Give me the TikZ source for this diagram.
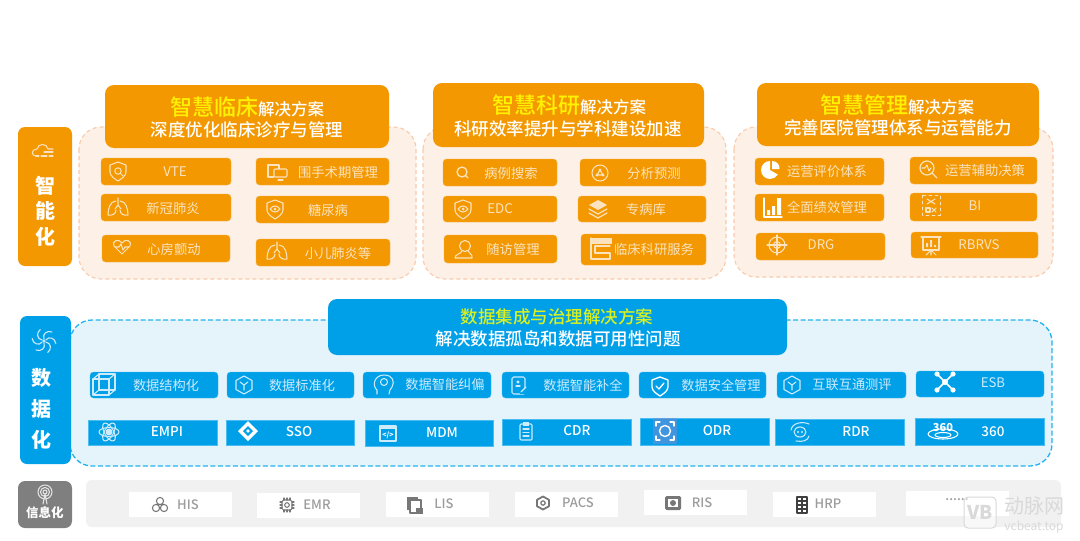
\documentclass[tikz,border=0pt]{standalone}
\usepackage{fontspec}
\setmainfont{Noto Sans CJK SC}
\newfontfamily\med{Noto Sans CJK SC Medium}
\usetikzlibrary{calc}
\definecolor{org}{HTML}{F39800}
\definecolor{orgpanel}{HTML}{FDF0E6}
\definecolor{orgdash}{HTML}{F9CBAA}
\definecolor{orgtxt}{HTML}{FBE3C0}
\definecolor{blu}{HTML}{00A0E9}
\definecolor{blupanel}{HTML}{E5F3FA}
\definecolor{bludash}{HTML}{22B4EE}
\definecolor{blutxt}{HTML}{CDEBFA}
\definecolor{graybk}{HTML}{7F7F7F}
\definecolor{graypanel}{HTML}{F1F1F1}
\definecolor{graytxt}{HTML}{9C9C9C}
\definecolor{grayicon}{HTML}{777777}
\definecolor{yel}{HTML}{FFF200}
\definecolor{yelg}{HTML}{D8F020}
\definecolor{wm}{HTML}{D9D9D9}
\definecolor{focus}{HTML}{6C8FD8}
\tikzset{
  x=1pt,y=-1pt,
  rbox/.style={inner sep=0pt,outer sep=0pt,rounded corners=#1},
  rbox/.default=4pt,
  panelO/.style={rbox=22pt,fill=orgpanel,draw=orgdash,line width=1.1pt,dash pattern=on 4pt off 3pt},
  panelB/.style={rbox=22pt,fill=blupanel,draw=bludash,line width=1.3pt,dash pattern=on 5pt off 2.5pt},
  hdO/.style={rbox=9pt,fill=org},
  hdB/.style={rbox=9pt,fill=blu},
  sideO/.style={rbox=7pt,fill=org},
  sideB/.style={rbox=7pt,fill=blu},
  sideG/.style={rbox=7pt,fill=graybk},
  itemO/.style={rbox=3.5pt,fill=org,draw=org!70!white,line width=.3pt},
  itemB/.style={rbox=3.5pt,fill=blu,draw=blu!70!white,line width=.3pt},
  itemS/.style={rbox=0pt,fill=blu,draw=blu!70!white,line width=.3pt},
  itemW/.style={rbox=0pt,fill=white},
  txtO/.style={inner sep=0pt,text=orgtxt,font=\fontsize{13.3}{15}\selectfont},
  txtB/.style={inner sep=0pt,text=blutxt,font=\fontsize{13.2}{15}\selectfont},
  txtS/.style={inner sep=0pt,text=white,font=\med\fontsize{13.5}{15}\selectfont},
  txtG/.style={inner sep=0pt,text=graytxt,font=\med\fontsize{13}{15}\selectfont},
  hdtxt/.style={inner sep=0pt,text=white,font=\med\fontsize{17.5}{20}\selectfont},
  sidetxt/.style={inner sep=0pt,text=white,font=\fontsize{20}{22}\bfseries\selectfont},
}
\newcommand\bx[6]{\path[#1] (#3,#4) rectangle (#5,#6) node[midway,inner sep=0pt,minimum size=0pt] (#2) {};}
\newcommand\lab[5]{\node[#1] (#2) at (#3,#4) {#5};}
\newcommand\ic[4]{\begin{scope}[shift={(#2,#3)},color=#1,line width=1.05pt,line join=round,line cap=round]#4\end{scope}}
\newcommand\shieldp{(0,-9) -- (8,-6) -- (8,1) .. controls (8,5) and (3,8) .. (0,10) .. controls (-3,8) and (-8,5) .. (-8,1) -- (-8,-6) -- cycle}
\newcommand\iShieldSearch{\draw \shieldp; \draw (0,0) circle (3.2); \draw (2.4,2.4) -- (5,5);}
\newcommand\iShieldEye{\draw \shieldp; \draw (-5,0) .. controls (-2,-4) and (2,-4) .. (5,0) .. controls (2,4) and (-2,4) .. (-5,0); \fill (0,0) circle (1.5);}
\newcommand\iShieldCheck{\draw[line width=1.3pt] \shieldp; \draw[line width=1.3pt] (-4,0) -- (-1,3) -- (4,-3);}
\newcommand\iLung{\draw (0,-9) -- (0,-2) (0,-2) -- (-3,2) (0,-2) -- (3,2);
  \draw (-2,-6) .. controls (-8,-6) and (-10,2) .. (-10,8) .. controls (-6,9) and (-2,7) .. (-2,3);
  \draw (2,-6) .. controls (8,-6) and (10,2) .. (10,8) .. controls (6,9) and (2,7) .. (2,3);}
\newcommand\iHeart{\draw (0,7) -- (-8,-1) .. controls (-11,-6) and (-3,-9) .. (0,-4) .. controls (3,-9) and (11,-6) .. (8,-1) -- cycle; \draw (-7,0) -- (-3,0) -- (-1,-3) -- (1,3) -- (3,0) -- (7,0);}
\newcommand\iScreens{\draw (-9,-7) rectangle (2,5); \fill[org] (-3,-3) rectangle (10,8); \draw[rounded corners=1pt] (-3,-3) rectangle (10,5); \draw (1,8) -- (6,8);}
\newcommand\iSearch{\draw[line width=1.3pt] (0,0) circle (5); \draw[line width=1.3pt] (3.5,3.5) -- (6,6);}
\newcommand\iGlobe{\draw (0,0) circle (8); \draw (0,-3) -- (-3,2) -- (3,2) -- cycle; \fill (0,-3) circle (1.6) (-3,2) circle (1.6) (3,2) circle (1.6);}
\newcommand\iLayers{\fill (0,-9) -- (9,-4) -- (0,1) -- (-9,-4) -- cycle; \draw[line width=1.2pt] (-9,0) -- (0,5) -- (9,0); \draw[line width=1.2pt] (-9,4) -- (0,9) -- (9,4);}
\newcommand\iPerson{\draw (0,-3) circle (5.5); \draw (-3,2) .. controls (-4,5) and (-10,5) .. (-10,9) -- (7,9) .. controls (8,5) and (4,5) .. (3,2);}
\newcommand\iCap{\fill (-10,-11) -- (11,-11) -- (11,-5) -- (-10,-5) -- cycle; \draw (-10,-11) -- (-10,10) -- (9,10); \draw (-6,-3) -- (9,-3) (-6,4) -- (9,4); \draw (-6,-3) -- (-6,4);\draw (9,4) -- (9,10);}
\newcommand\iPie{\fill (-1,-1) -- (-1,-10) arc[start angle=90,end angle=330,radius=9,y radius=-9] -- cycle; \fill (1,-2) -- (1,-10) .. controls (6,-10) and (9,-6) .. (8.5,-2) -- cycle;}
\newcommand\iBars{\draw[line width=1.2pt] (-9,-9) -- (-9,10) -- (9,10); \fill (-6,3) rectangle (-3,8) (-1,-1) rectangle (2,8) (4,-9) rectangle (8,8);}
\newcommand\iTarget{\draw (0,0) circle (8); \draw (0,0) circle (3.5); \draw (-10,0) -- (10,0) (0,-10) -- (0,10);}
\newcommand\iMagPulse{\draw[line width=1.2pt] (-1,-1) circle (7); \draw[line width=1.2pt] (4,4) -- (9,9); \draw (-6,-1) -- (-3,-1) -- (-1,-4) -- (1,2) -- (3,-1);}
\newcommand\iBI{\draw[dashed,line width=.8pt] (-9,-10) rectangle (9,10); \draw (-4,-6) -- (4,-1) (4,-6) -- (-4,-1); \draw (-5,3) rectangle (-1,7); \draw (1,3) -- (5,7) (5,3) -- (1,7);}
\newcommand\iBoard{\draw[line width=1.1pt] (-10,-8) -- (10,-8); \draw (-8,-8) -- (-8,5) -- (8,5) -- (8,-8); \fill (-5,2) rectangle (-3,-2) (-1,2) rectangle (1,-5) (3,2) rectangle (5,0); \draw (0,5) -- (0,10) (-5,10) -- (0,5) -- (5,10);}
\newcommand\iCube{\draw[line width=1.1pt] (-11,-6) rectangle (5,10); \draw[line width=1.1pt] (-5,-11) rectangle (11,5); \draw[line width=1.1pt] (-11,-6) -- (-5,-11) (5,-6) -- (11,-11) (5,10) -- (11,5) (-11,10) -- (-5,5);}
\newcommand\iHex{\draw[line width=1.1pt] (0,-9) -- (8,-4.5) -- (8,4.5) -- (0,9) -- (-8,4.5) -- (-8,-4.5) -- cycle; \draw (-4,-3) -- (0,0) -- (4,-3) (0,0) -- (0,5);}
\newcommand\iHead{\draw (-7,9) -- (-7,5) .. controls (-12,1) and (-10,-10) .. (0,-10) .. controls (9,-10) and (11,-3) .. (8,2) -- (6,5) -- (5,9); \draw (0,-3) circle (3.5);}
\newcommand\iDocPen{\draw[rounded corners=1.5pt] (-7,-8) rectangle (6,9); \fill[blu] (1,3) rectangle (9,9); \draw (-1,-3) circle (1.1); \draw (-3,1) -- (1,1); \draw[line width=1.3pt] (2,7) -- (7,2);}
\newcommand\iNet{\fill (-8,-8) circle (2.6) (8,-8) circle (2.6) (-8,8) circle (2.6) (8,8) circle (2.6) (0,0) circle (3); \draw[line width=1.5pt] (-8,-8) -- (8,8) (8,-8) -- (-8,8);}
\newcommand\iAtom{\fill (0,0) circle (3.5); \draw[rotate=0] (0,0) ellipse[x radius=10,y radius=4.5]; \draw[rotate=60] (0,0) ellipse[x radius=10,y radius=4.5]; \draw[rotate=120] (0,0) ellipse[x radius=10,y radius=4.5];}
\newcommand\iDiamond{\fill[white] (0,-10) -- (10,0) -- (0,10) -- (-10,0) -- cycle; \fill[blu] (0,-5) -- (5,0) -- (0,5) -- (-5,0) -- cycle; \fill[white] (0,0) circle (1.8);}
\newcommand\iCode{\draw (-8,-7) rectangle (8,8); \fill (-8,-7) rectangle (8,-4); \node[inner sep=0pt,text=white,font=\fontsize{7}{8}\bfseries\selectfont] (cd) at (0,2) {</>};}
\newcommand\iClip{\draw[rounded corners=1pt] (-6,-7) rectangle (6,9); \fill (-3,-9) rectangle (3,-5); \draw (-3,-2) -- (3,-2) (-3,1.5) -- (3,1.5) (-3,5) -- (3,5);}
\newcommand\iFocus{\fill[focus,opacity=.6] (-12,-13) rectangle (12,13); \draw[line width=1.2pt] (-9,-5) -- (-9,-9) -- (-5,-9) (5,-9) -- (9,-9) -- (9,-5) (9,5) -- (9,9) -- (5,9) (-5,9) -- (-9,9) -- (-9,5); \draw[line width=1.4pt] (0,0) circle (5.5);}
\newcommand\iSwirl{\draw[line width=1.1pt] (0,0) ellipse[x radius=6,y radius=5]; \draw (-9,-2) .. controls (-8,-9) and (2,-11) .. (9,-8); \draw (9,4) .. controls (8,9) and (2,10) .. (-4,9); \fill (-2,0) circle (1.1) (2,0) circle (1.1);}
\newcommand\iThreeSixty{\draw (0,3) ellipse[x radius=15,y radius=5]; \draw (0,4) ellipse[x radius=8,y radius=2.5]; \node[inner sep=0pt,text=white,font=\fontsize{11}{12}\bfseries\selectfont] (ts) at (0,-3) {360};}
\newcommand\iCloud{\draw (-8,4) .. controls (-13,4) and (-13,-3) .. (-7,-3) .. controls (-6,-9) and (3,-9) .. (4,-3) -- (9,-3); \draw (-3,4) -- (3,4) (0,0) -- (9,0) (5,4) -- (9,4) (-8,4) -- (-5,4);}
\newcommand\iPin{\foreach \a in {0,60,...,300} {\draw[line width=1.1pt,rotate=\a] (0,-2) .. controls (-2,-7) and (3,-11) .. (8,-9);} \fill (0,0) circle (1.6);}
\newcommand\iAntenna{\draw (0,-3) circle (2); \draw (0,-3) circle (4.5); \draw (0,-3) circle (7); \draw (-2,9) -- (0,-1) -- (2,9);}
\newcommand\iClover{\draw (0,-4) circle (3.6) (-4,3) circle (3.6) (4,3) circle (3.6);}
\newcommand\iChip{\draw[rounded corners=1.5pt] (-5,-5) rectangle (5,5); \draw (0,0) circle (2.3); \draw (-3,-7) -- (-3,-5) (0,-7) -- (0,-5) (3,-7) -- (3,-5) (-3,7) -- (-3,5) (0,7) -- (0,5) (3,7) -- (3,5) (-7,-3) -- (-5,-3) (-7,0) -- (-5,0) (-7,3) -- (-5,3) (7,-3) -- (5,-3) (7,0) -- (5,0) (7,3) -- (5,3);}
\newcommand\iFiles{\fill (-8,-8) rectangle (3,5); \fill[white] (-5,-5) rectangle (6,8); \draw[line width=1.1pt] (-5,-5) rectangle (6,8); \fill (1,3) rectangle (8,9);}
\newcommand\iNut{\draw[line width=1.8pt] (0,-6.5) -- (6,-3.2) -- (6,3.2) -- (0,6.5) -- (-6,3.2) -- (-6,-3.2) -- cycle; \draw[line width=1.2pt] (0,0) circle (2.2);}
\newcommand\iFilm{\fill[rounded corners=1.5pt] (-8,-7) rectangle (8,7); \fill[white] (-5,-4) rectangle (5,4); \fill (0,0) circle (3);}
\newcommand\iGrid{\draw[line width=1.2pt] (-5,-8) rectangle (5,8); \draw (-5,-4) -- (5,-4) (-5,0) -- (5,0) (-5,4) -- (5,4) (0,-8) -- (0,8);}
\newcommand\hdline[2]{{\med\fontsize{22}{24}\selectfont\textcolor{yel}{#1}}{\fontsize{16.5}{18}\selectfont #2}}
\begin{document}
\begin{tikzpicture}
\useasboundingbox (0,0) rectangle (1080,541);
\fill[white] (0,0) rectangle (1080,541);
% ---------- intelligent layer ----------
\bx{sideO}{sideA}{18}{127}{72}{266}
\ic{orgtxt}{44}{152}{\iCloud}
\lab{sidetxt}{sa1}{45}{186}{智}\lab{sidetxt}{sa2}{45}{211}{能}\lab{sidetxt}{sa3}{45}{237}{化}
% panel 1
\bx{panelO}{p1}{79}{127}{416}{279}
\bx{hdO}{h1}{105}{85}{389}{148}
\node[hdtxt] (h1a) at (247,107) {\hdline{智慧临床}{解决方案}};
\lab{hdtxt}{h1b}{247}{130}{深度优化临床诊疗与管理}
\bx{itemO}{a1}{101}{158}{231}{185}\ic{orgtxt}{118}{171}{\iShieldSearch}\lab{txtO}{a1t}{175}{172}{VTE}
\bx{itemO}{a2}{101}{194}{231}{221}\ic{orgtxt}{118}{207}{\iLung}\lab{txtO}{a2t}{173}{208}{新冠肺炎}
\bx{itemO}{a3}{102}{235}{230}{262}\ic{orgtxt}{122}{247}{\iHeart}\lab{txtO}{a3t}{174}{249}{心房颤动}
\bx{itemO}{a4}{256}{158}{389}{185}\ic{orgtxt}{277}{172}{\iScreens}\lab{txtO}{a4t}{338}{172}{围手术期管理}
\bx{itemO}{a5}{256}{196}{389}{223}\ic{orgtxt}{275}{209}{\iShieldEye}\lab{txtO}{a5t}{328}{210}{糖尿病}
\bx{itemO}{a6}{256}{239}{390}{266}\ic{orgtxt}{277}{251}{\iLung}\lab{txtO}{a6t}{338}{253}{小儿肺炎等}
% panel 2
\bx{panelO}{p2}{423}{127}{726}{279}
\bx{hdO}{h2}{433}{83}{704}{147}
\node[hdtxt] (h2a) at (569,105) {\hdline{智慧科研}{解决方案}};
\lab{hdtxt}{h2b}{568}{129}{科研效率提升与学科建设加速}
\bx{itemO}{b1}{443}{159}{557}{186}\ic{orgtxt}{462}{172}{\iSearch}\lab{txtO}{b1t}{511}{173}{病例搜索}
\bx{itemO}{b2}{443}{196}{557}{222}\ic{orgtxt}{463}{209}{\iShieldEye}\lab{txtO}{b2t}{500}{209}{EDC}
\bx{itemO}{b3}{444}{235}{557}{263}\ic{orgtxt}{465}{249}{\iPerson}\lab{txtO}{b3t}{513}{249}{随访管理}
\bx{itemO}{b4}{580}{159}{706}{186}\ic{orgtxt}{600}{173}{\iGlobe}\lab{txtO}{b4t}{654}{173}{分析预测}
\bx{itemO}{b5}{578}{196}{706}{222}\ic{orgtxt}{598}{209}{\iLayers}\lab{txtO}{b5t}{646}{209}{专病库}
\bx{itemO}{b6}{581}{234}{706}{265}\ic{orgtxt}{601}{249}{\iCap}\lab{txtO}{b6t}{654}{249}{临床科研服务}
% panel 3
\bx{panelO}{p3}{734}{127}{1053}{277}
\bx{hdO}{h3}{757}{83}{1039}{146}
\node[hdtxt] (h3a) at (897,105) {\hdline{智慧管理}{解决方案}};
\lab{hdtxt}{h3b}{898}{128}{完善医院管理体系与运营能力}
\bx{itemO}{c1}{755}{158}{884}{185}\ic{white}{771}{171}{\iPie}\lab{txtO}{c1t}{827}{171}{运营评价体系}
\bx{itemO}{c2}{755}{194}{884}{221}\ic{white}{773}{207}{\iBars}\lab{txtO}{c2t}{827}{207}{全面绩效管理}
\bx{itemO}{c3}{756}{233}{885}{260}\ic{orgtxt}{777}{245}{\iTarget}\lab{txtO}{c3t}{821}{245}{DRG}
\bx{itemO}{c4}{910}{157}{1037}{184}\ic{orgtxt}{928}{169}{\iMagPulse}\lab{txtO}{c4t}{985}{170}{运营辅助决策}
\bx{itemO}{c5}{910}{193}{1037}{221}\ic{orgtxt}{931}{205}{\iBI}\lab{txtO}{c5t}{975}{206}{BI}
\bx{itemO}{c6}{911}{232}{1038}{258}\ic{orgtxt}{931}{245}{\iBoard}\lab{txtO}{c6t}{979}{245}{RBRVS}
% ---------- data layer ----------
\bx{panelB}{p4}{70}{320}{1052}{466}
\bx{sideB}{sideD}{20}{316}{71}{464}
\ic{blutxt}{44}{341}{\iPin}
\lab{sidetxt}{sd1}{41}{378}{数}\lab{sidetxt}{sd2}{41}{409}{据}\lab{sidetxt}{sd3}{41}{440}{化}
\bx{hdB}{h4}{328}{299}{787}{355}
\node[inner sep=0pt,text=yelg,font=\med\fontsize{17.5}{20}\selectfont] (h4a) at (557,317) {数据集成与治理解决方案};
\lab{hdtxt}{h4b}{558}{339}{解决数据孤岛和数据可用性问题}
\bx{itemB}{d1}{90}{372}{218}{398}\ic{blutxt}{104}{385}{\iCube}\lab{txtB}{d1t}{166}{385}{数据结构化}
\bx{itemB}{d2}{227}{372}{354}{398}\ic{blutxt}{244}{385}{\iHex}\lab{txtB}{d2t}{302}{385}{数据标准化}
\bx{itemB}{d3}{363}{372}{491}{398}\ic{blutxt}{384}{385}{\iHead}\lab{txtB}{d3t}{445}{384}{数据智能纠偏}
\bx{itemB}{d4}{502}{372}{629}{398}\ic{blutxt}{519}{385}{\iDocPen}\lab{txtB}{d4t}{583}{385}{数据智能补全}
\bx{itemB}{d5}{639}{372}{766}{398}\ic{white}{660}{386}{\iShieldCheck}\lab{txtB}{d5t}{721}{385}{数据安全管理}
\bx{itemB}{d6}{777}{372}{906}{398}\ic{blutxt}{792}{385}{\iHex}\lab{txtB}{d6t}{852}{385}{互联互通测评}
\bx{itemB}{d7}{916}{371}{1044}{397}\ic{white}{945}{382}{\iNet}\lab{txtB}{d7t}{993}{383}{ESB}
\bx{itemS}{e1}{88}{420}{217}{445}\ic{blutxt}{109}{432}{\iAtom}\lab{txtS}{e1t}{167}{432}{EMPI}
\bx{itemS}{e2}{226}{420}{354}{445}\ic{white}{248}{431}{\iDiamond}\lab{txtS}{e2t}{299}{432}{SSO}
\bx{itemS}{e3}{365}{420}{493}{446}\ic{blutxt}{388}{433}{\iCode}\lab{txtS}{e3t}{442}{433}{MDM}
\bx{itemS}{e4}{502}{419}{631}{445}\ic{blutxt}{526}{431}{\iClip}\lab{txtS}{e4t}{577}{431}{CDR}
\bx{itemS}{e5}{640}{418}{769}{445}\ic{white}{665}{431}{\iFocus}\lab{txtS}{e5t}{717}{431}{ODR}
\bx{itemS}{e6}{775}{419}{904}{445}\ic{blutxt}{800}{432}{\iSwirl}\lab{txtS}{e6t}{856}{432}{RDR}
\bx{itemS}{e7}{915}{418}{1044}{445}\ic{white}{943}{431}{\iThreeSixty}\lab{txtS}{e7t}{993}{432}{360}
% ---------- information layer ----------
\bx{rbox=6pt,fill=graypanel}{p5}{86}{480}{1061}{527}
\bx{sideG}{sideI}{18}{481}{72}{528}
\ic{white!80!graybk}{45}{495}{\iAntenna}
\node[inner sep=0pt,text=white,font=\fontsize{12.5}{14}\bfseries\selectfont] (si) at (45,513) {信息化};
\bx{itemW}{f1}{129}{492}{232}{517}\ic{grayicon}{160}{505}{\iClover}\lab{txtG}{f1t}{188}{505}{HIS}
\bx{itemW}{f2}{257}{493}{360}{518}\ic{grayicon}{287}{505}{\iChip}\lab{txtG}{f2t}{317}{505}{EMR}
\bx{itemW}{f3}{386}{492}{489}{517}\ic{grayicon}{415}{505}{\iFiles}\lab{txtG}{f3t}{444}{504}{LIS}
\bx{itemW}{f4}{515}{492}{618}{517}\ic{grayicon}{543}{503}{\iNut}\lab{txtG}{f4t}{578}{503}{PACS}
\bx{itemW}{f5}{644}{490}{747}{515}\ic{grayicon}{673}{503}{\iFilm}\lab{txtG}{f5t}{702}{503}{RIS}
\bx{itemW}{f6}{773}{492}{876}{517}\ic{black!75}{802}{505}{\iGrid}\lab{txtG}{f6t}{828}{504}{HRP}
\bx{itemW}{f7}{906}{491}{1009}{516}\lab{txtG}{f7t}{957}{500}{......}
% ---------- watermark ----------
\path[draw=wm,line width=1pt,rounded corners=4pt,fill=white,fill opacity=.5] (964,497) rectangle (996,528);
\node[inner sep=0pt,text=wm,font=\fontsize{19}{20}\bfseries\selectfont] (wmv) at (980,512) {VB};
\node[inner sep=0pt,text=wm,font=\fontsize{20}{22}\selectfont] (wmt) at (1034,506) {动脉网};
\node[inner sep=0pt,text=wm,font=\fontsize{12}{13}\selectfont] (wmu) at (1034,527) {vcbeat.top};
\end{tikzpicture}
\end{document}
